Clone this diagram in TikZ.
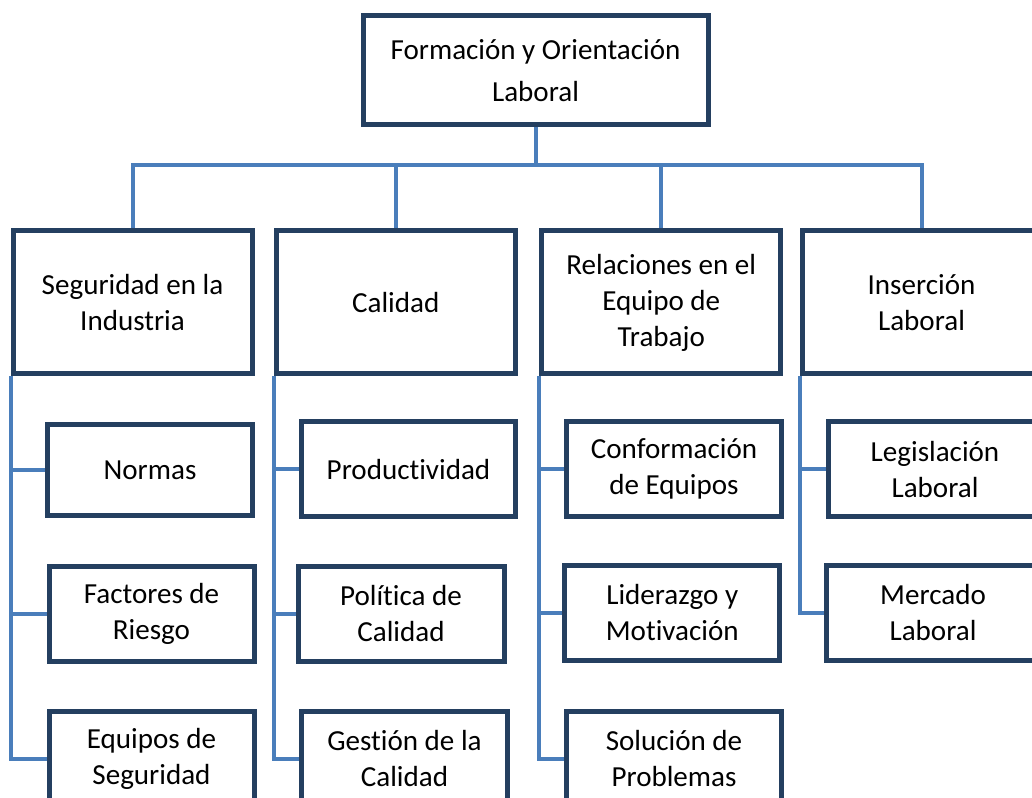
\documentclass[tikz,border=0pt]{standalone}
\usepackage{fontspec}
\setmainfont{Carlito}[Ligatures=NoCommon]
\usetikzlibrary{backgrounds}

\definecolor{boxblue}{HTML}{243F60}
\definecolor{lineblue}{HTML}{4A7EBB}

\tikzset{
  topbox/.style={draw=boxblue, line width=3.75pt, fill=white, align=center, inner sep=0pt,
    font=\fontsize{21.8}{31.5}\selectfont, minimum width=258.75pt, minimum height=82.1pt},
  headbox/.style={draw=boxblue, line width=3.75pt, fill=white, align=center, inner sep=0pt,
    font=\fontsize{21.8}{27}\selectfont, minimum width=179.25pt, minimum height=107.25pt},
  subbox/.style={draw=boxblue, line width=3.75pt, fill=white, align=center, inner sep=0pt,
    font=\fontsize{21.8}{27}\selectfont, minimum height=71.25pt},
  link/.style={draw=lineblue, line width=3pt}
}

\begin{document}
\begin{tikzpicture}[x=0.75pt, y=-0.75pt]
\useasboundingbox (0,0) rectangle (1032,798);
\clip (0,0) rectangle (1032,798);

% Main box
\node[topbox] (main) at (535.5,70.25) {Formación y Orientación\\Laboral};

% Level 1
\node[headbox] (seg) at (132.5,302.5) {Seguridad en la\\Industria};
\node[headbox] (cal) at (395.75,302.5) {Calidad};
\node[headbox] (rel) at (661.25,302.5) {Relaciones en el\\Equipo de\\Trabajo};
\node[headbox] (ins) at (921.5,302.5) {Inserción\\Laboral};

% Level 2
\node[subbox, minimum width=154pt, minimum height=67.9pt] (seg1) at (150,470) {Normas};
\node[subbox, minimum width=153.75pt] (seg2) at (151.5,613.75) {Factores de\\Riesgo};
\node[subbox, minimum width=153.75pt] (seg3) at (151.5,758.5) {Equipos de\\Seguridad};

\node[subbox, minimum width=160.5pt] (cal1) at (408.5,469.25) {Productividad};
\node[subbox, minimum width=154.5pt] (cal2) at (401,613.75) {Política de\\Calidad};
\node[subbox, minimum width=154.5pt] (cal3) at (404.5,758.5) {Gestión de la\\Calidad};

\node[subbox, minimum width=161.25pt] (rel1) at (674,469.25) {Conformación\\de Equipos};
\node[subbox, minimum width=160.9pt] (rel2) at (672.25,612.75) {Liderazgo y\\Motivación};
\node[subbox, minimum width=161.25pt] (rel3) at (674,758.5) {Solución de\\Problemas};

\node[subbox, minimum width=159.75pt] (ins1) at (935,469.25) {Legislación\\Laboral};
\node[subbox, minimum width=159.75pt] (ins2) at (933,612.75) {Mercado\\Laboral};

% Connectors
\begin{scope}[on background layer]
\coordinate (bus) at (0,165.5);
\draw[link] (main.south) -- (main.south |- bus);
\draw[link] (seg.north) -- (seg.north |- bus) -- (ins.north |- bus) -- (ins.north);
\foreach \n in {cal,rel}
  \draw[link] (\n.north) -- (\n.north |- bus);
\foreach \n in {seg1,seg2,seg3}
  \draw[link] (seg.south west) |- (\n.west);
\foreach \n in {cal1,cal2,cal3}
  \draw[link] (cal.south west) |- (\n.west);
\foreach \n in {rel1,rel2,rel3}
  \draw[link] (rel.south west) |- (\n.west);
\foreach \n in {ins1,ins2}
  \draw[link] (ins.south west) |- (\n.west);
\end{scope}
\end{tikzpicture}
\end{document}
